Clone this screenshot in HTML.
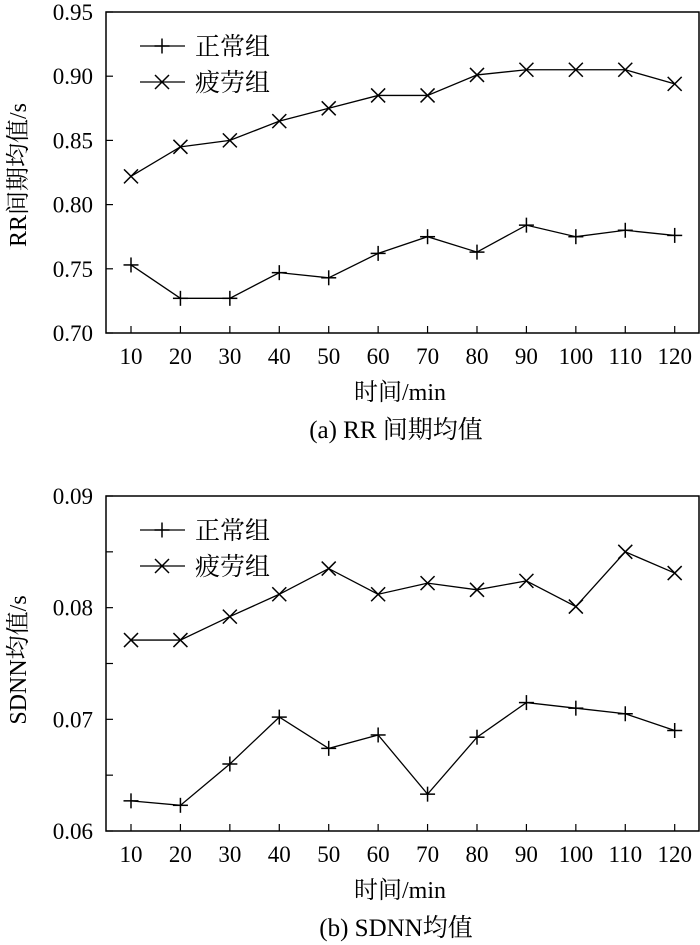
<!DOCTYPE html>
<html><head><meta charset="utf-8"><style>
body{margin:0;background:#fff;}
svg{display:block;font-family:"Liberation Serif","Noto Serif CJK SC",serif;}
</style></head><body>
<svg id="c" width="700" height="945"></svg>
<script>
const categories=[10,20,30,40,50,60,70,80,90,100,110,120];
const rrNormal=[0.753,0.727,0.727,0.747,0.743,0.762,0.775,0.763,0.784,0.775,0.780,0.776];
const rrFatigue=[0.822,0.845,0.850,0.865,0.875,0.885,0.885,0.901,0.905,0.905,0.905,0.894];
const sdNormal=[0.0627,0.0623,0.0660,0.0702,0.0674,0.0686,0.0633,0.0684,0.0715,0.0710,0.0705,0.0690];
const sdFatigue=[0.0771,0.0771,0.0792,0.0812,0.0835,0.0812,0.0822,0.0816,0.0824,0.0801,0.0850,0.0831];
const rrTicks=["0.70","0.75","0.80","0.85","0.90","0.95"];
const sdTicks=["0.06","0.07","0.08","0.09"];
const sdMinor=[0.065,0.075,0.085];
const legendLabels=["正常组","疲劳组"];

const svg=document.getElementById('c');
const NS='http://www.w3.org/2000/svg';
function mk(t,a,p){const e=document.createElementNS(NS,t);for(const k in a)e.setAttribute(k,a[k]);(p||svg).appendChild(e);return e;}
function txt(s,a,p){const e=mk('text',a,p);e.textContent=s;return e;}

function panel(o){
  const g=mk('g',{});
  
  
  const L=106,R=699,T=o.top,B=o.bottom;
  const xs=v=>131+(v-10)*(674.7-131)/110;
  const ys=v=>B-(v-o.min)/(o.max-o.min)*(B-T);
  const box=mk('rect',{x:L,y:T,width:R-L,height:B-T,fill:'none',stroke:'#000','stroke-width':1.5},g);
  
  
  categories.forEach(c=>{
    const x=xs(c);
    mk('line',{x1:x,x2:x,y1:B,y2:B-7,stroke:'#000','stroke-width':1.2},g);
    const t=txt(String(c),{x:x,y:B+31,'font-size':23,'text-anchor':'middle'},g);
    
    
  });
  o.ticks.forEach(s=>{
    const y=ys(parseFloat(s));
    mk('line',{x1:L,x2:L+7,y1:y,y2:y,stroke:'#000','stroke-width':1.2},g);
    const t=txt(s,{x:93,y:y+8,'font-size':23,'text-anchor':'end'},g);
    
    
  });
  (o.minor||[]).forEach(v=>{const y=ys(v);mk('line',{x1:L,x2:L+7,y1:y,y2:y,stroke:'#000','stroke-width':1.2},g);});
  function series(vals,marker,name){
    const pts=categories.map((c,i)=>[xs(c),ys(vals[i])]);
    const pl=mk('polyline',{points:pts.map(p=>p.join(',')).join(' '),fill:'none',stroke:'#000','stroke-width':1.3},g);
    
    
    pts.forEach(p=>drawMarker(p[0],p[1],marker,g));
  }
  series(o.normal,'+','normal-series-line');
  series(o.fatigue,'x','fatigue-series-line');
  const lg=mk('g',{},g);
  
  
  [['+',legendLabels[0]],['x',legendLabels[1]]].forEach((m,i)=>{
    const y=T+34+i*36;
    mk('line',{x1:140,x2:185,y1:y,y2:y,stroke:'#000','stroke-width':1.3},lg);
    drawMarker(162,y,m[0],lg);
    const t=txt(m[1],{x:195,y:y+9,'font-size':25},lg);
    
    
  });
  const xt=txt('时间/min',{x:400,y:B+67,'font-size':24,'text-anchor':'middle'},g);
  
  
  const yt=txt(o.ylabel,{x:0,y:0,'font-size':24,'text-anchor':'middle',transform:`translate(26,${o.ylabelY}) rotate(-90)`},g);
  
  
  const cap=txt(o.caption,{x:396,y:B+105,'font-size':25,'text-anchor':'middle'},g);
  
  
}
function drawMarker(x,y,m,p){
  const s=7.5;
  if(m==='+'){
    mk('line',{x1:x-s,x2:x+s,y1:y,y2:y,stroke:'#000','stroke-width':1.5},p);
    mk('line',{x1:x,x2:x,y1:y-s,y2:y+s,stroke:'#000','stroke-width':1.5},p);
  }else{
    const d=7;
    mk('line',{x1:x-d,x2:x+d,y1:y-d,y2:y+d,stroke:'#000','stroke-width':1.5},p);
    mk('line',{x1:x-d,x2:x+d,y1:y+d,y2:y-d,stroke:'#000','stroke-width':1.5},p);
  }
}
panel({name:'rr-chart',top:12,bottom:333,min:0.70,max:0.95,ticks:rrTicks,normal:rrNormal,fatigue:rrFatigue,ylabel:'RR间期均值/s',ylabelY:175,caption:'(a) RR 间期均值'});
panel({name:'sdnn-chart',top:496,bottom:831,min:0.06,max:0.09,ticks:sdTicks,minor:sdMinor,normal:sdNormal,fatigue:sdFatigue,ylabel:'SDNN均值/s',ylabelY:660,caption:'(b) SDNN均值'});
</script>
</body></html>
